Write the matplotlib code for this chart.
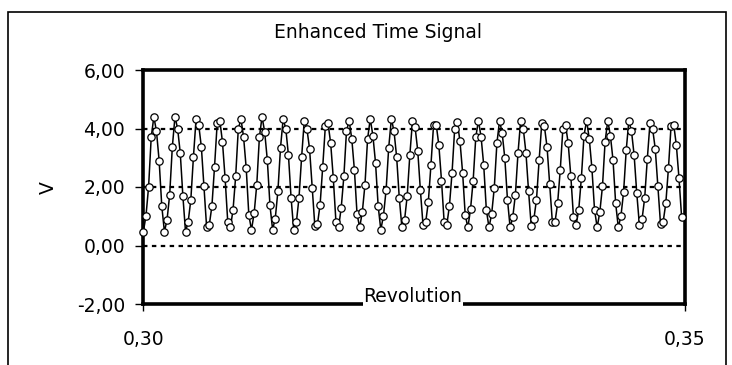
import numpy as np
import matplotlib
matplotlib.use("Agg")
import matplotlib.pyplot as plt
from matplotlib.patches import Rectangle

rev_start = 0.3000
rev_step = 0.0002438

volts = [
    0.47, 1.00, 2.00, 3.70, 4.40, 3.90, 2.90, 1.35, 0.47, 0.88,
    1.74, 3.37, 4.40, 4.00, 3.17, 1.69, 0.47, 0.81, 1.55, 3.03,
    4.33, 4.12, 3.37, 2.02, 0.62, 0.70, 1.35, 2.70, 4.18, 4.27,
    3.54, 2.30, 0.81, 0.62, 1.21, 2.36, 3.99, 4.33, 3.71, 2.64,
    1.03, 0.54, 1.10, 2.08, 3.71, 4.40, 3.88, 2.92, 1.37, 0.54,
    0.92, 1.85, 3.35, 4.33, 3.99, 3.09, 1.63, 0.54, 0.79, 1.63,
    3.03, 4.27, 3.99, 3.31, 1.97, 0.67, 0.73, 1.40, 2.70, 4.10,
    4.18, 3.50, 2.30, 0.81, 0.62, 1.29,
    2.36, 3.91, 4.27, 3.65, 2.58, 1.07, 0.62, 1.15, 2.08, 3.65,
    4.33, 3.76, 2.83, 1.35, 0.54, 1.01, 1.89, 3.35, 4.33, 3.91,
    3.03, 1.63, 0.62, 0.87, 1.69, 3.09, 4.25, 4.04, 3.24, 1.89,
    0.70, 0.79, 1.48, 2.75, 4.13, 4.13, 3.43, 2.22, 0.81, 0.70,
    1.35, 2.49, 3.99, 4.21, 3.57, 2.49, 1.03, 0.62, 1.24, 2.22,
    3.71, 4.27, 3.71, 2.75, 1.21, 0.62, 1.07, 1.97, 3.50, 4.27,
    3.84, 2.98, 1.57, 0.62, 0.96, 1.74, 3.17, 4.27, 3.99, 3.17,
    1.85,
    0.67, 0.90, 1.57, 2.92, 4.18, 4.07, 3.37, 2.11, 0.81, 0.79,
    1.44, 2.58, 3.99, 4.13, 3.50, 2.38, 0.99, 0.70, 1.21, 2.30,
    3.76, 4.27, 3.65, 2.64, 1.21, 0.62, 1.15, 2.02, 3.55, 4.27,
    3.76, 2.92, 1.44, 0.62, 1.01, 1.82, 3.26, 4.27, 3.91, 3.09,
    1.78, 0.70, 0.90, 1.63, 2.97, 4.18, 3.99, 3.31, 2.02, 0.73,
    0.81, 1.44, 2.64, 4.10, 4.13, 3.43, 2.30, 0.96,
]

x_ticks = [0.30, 0.35]
x_tick_labels = ["0,30", "0,35"]
y_ticks = [-2, 0, 2, 4, 6]
y_tick_labels = ["-2,00", "0,00", "2,00", "4,00", "6,00"]
grid_levels = [0, 2, 4]

W, H = 732, 365
plt.rcParams['font.family'] = 'DejaVu Sans'
fs = 13.5

fig = plt.figure(figsize=(W / 100, H / 100), dpi=100)

# chart area frame (bottom edge runs off the picture)
fig.patches.append(Rectangle((8 / W, -0.1), (726 - 8) / W, 1.1 - 11.5 / H,
                             transform=fig.transFigure, fill=False,
                             edgecolor='black', linewidth=1.2))

ax = fig.add_axes([143.3 / W, 1 - 304 / H, (684.5 - 143.3) / W, 234 / H])

rev = rev_start + rev_step * np.arange(len(volts))

for lvl in grid_levels:
    ax.axhline(lvl, color='black', linewidth=1.6, linestyle=(0, (2.0, 2.0)), zorder=1)

ax.plot(rev, volts, color='black', linewidth=1.1, marker='o', markersize=5.3,
        markerfacecolor='white', markeredgecolor='black', markeredgewidth=0.9,
        clip_on=False, zorder=3)

ax.set_xlim(0.30, 0.35)
ax.set_ylim(-2, 6)
ax.set_xticks(x_ticks)
ax.set_xticklabels(x_tick_labels)
ax.set_yticks(y_ticks)
ax.set_yticklabels(y_tick_labels)
ax.tick_params(axis='y', direction='out', length=6, width=1, pad=7, labelsize=fs)
ax.tick_params(axis='x', direction='out', length=5, width=1, pad=14, labelsize=fs)
for s in ax.spines.values():
    s.set_linewidth(2.6)
    s.set_zorder(2.5)

fig.text(378 / W, 1 - 32 / H, "Enhanced Time Signal", ha='center', va='center', fontsize=fs)
fig.text(48 / W, 1 - 188 / H, "V", ha='center', va='center', rotation=90, fontsize=fs)
fig.text(413 / W, 1 - 297 / H, "Revolution", ha='center', va='center', fontsize=fs,
         bbox=dict(facecolor='white', edgecolor='none', pad=0.5))

fig.savefig("out.png", dpi=100)
